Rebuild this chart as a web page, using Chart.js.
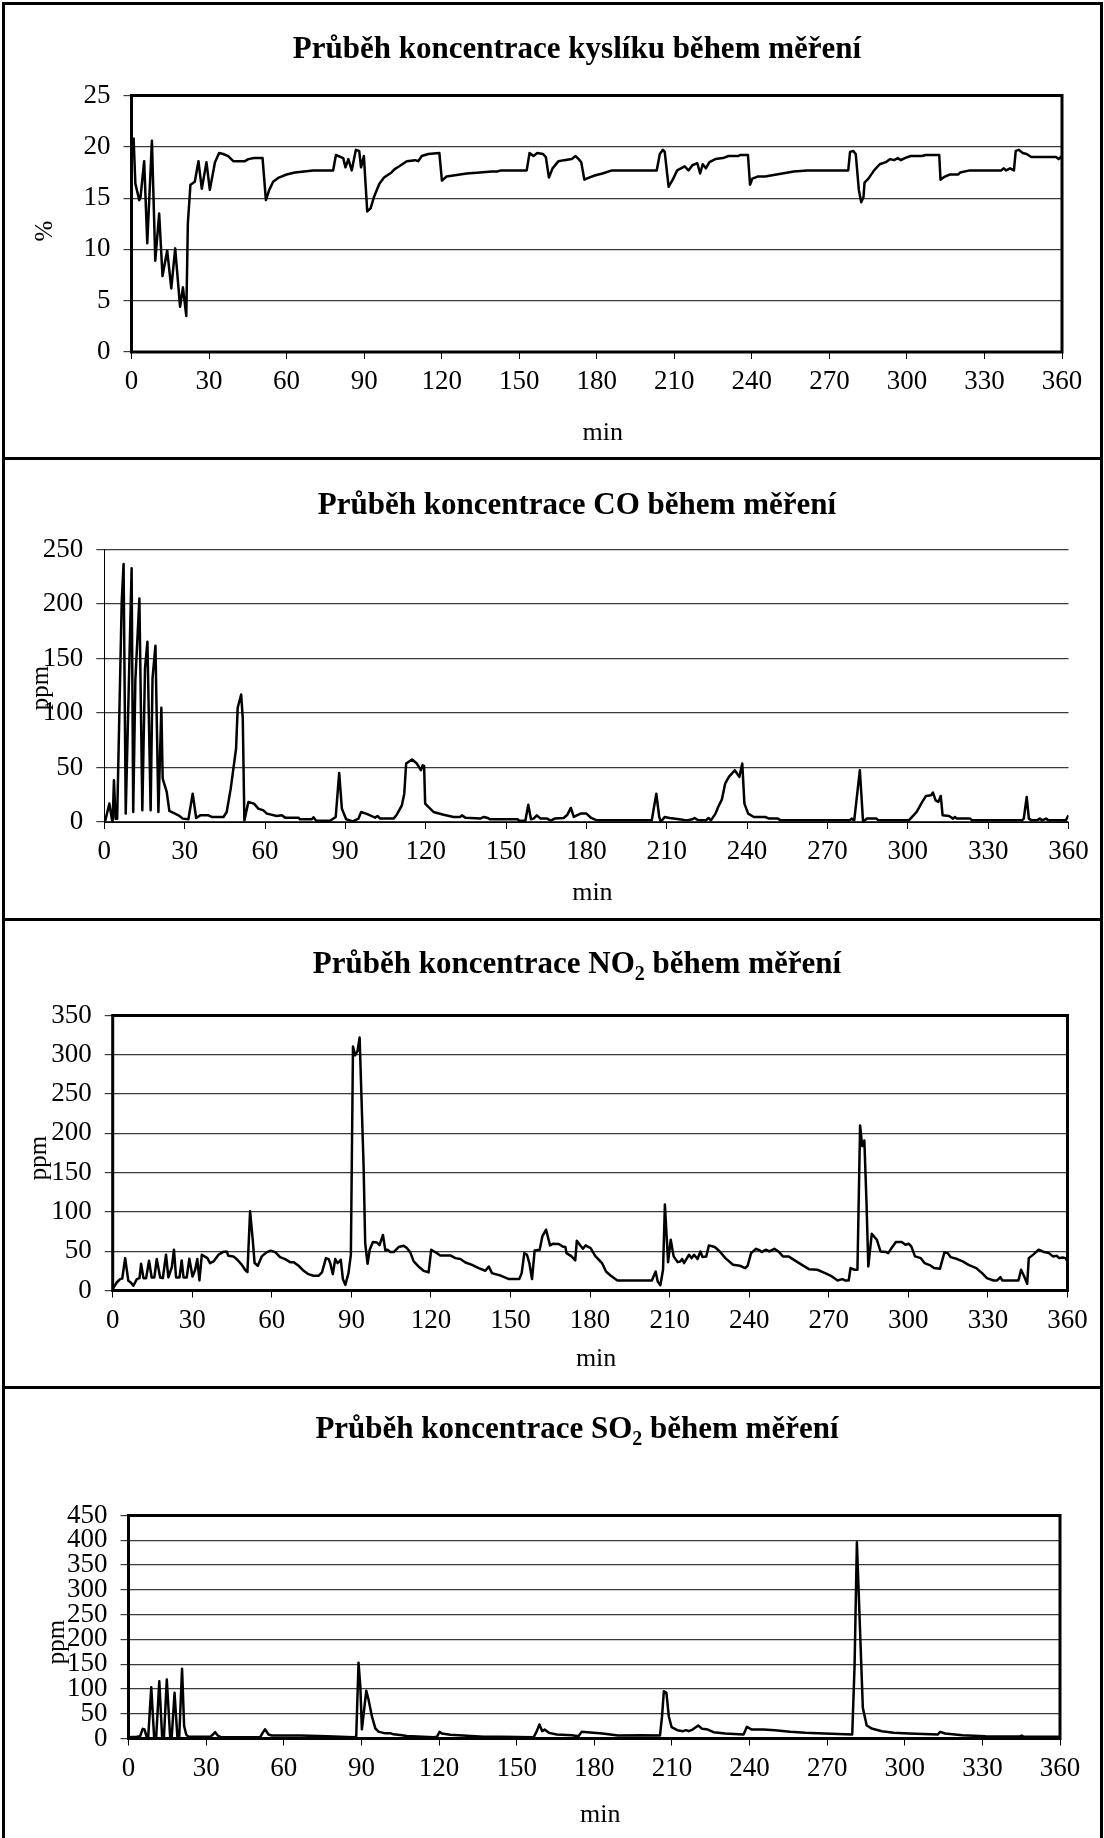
<!DOCTYPE html>
<html lang="cs">
<head>
<meta charset="utf-8">
<title>Průběh koncentrací během měření</title>
<script src="https://cdn.jsdelivr.net/npm/chart.js@4.4.0/dist/chart.umd.js"></script>
<style>
  html, body { margin: 0; padding: 0; background: #fff; }
  #sheet { position: relative; width: 1104px; height: 1838px; overflow: hidden; background: #fff; }
  #sheet canvas { position: absolute; left: 0; }
  .rule { position: absolute; background: #000; }
</style>
</head>
<body>
<div id="sheet">
  <canvas id="chart-o2" width="1104" height="458" style="top:0px"></canvas>
  <canvas id="chart-co" width="1104" height="462" style="top:458px"></canvas>
  <canvas id="chart-no2" width="1104" height="468" style="top:920px"></canvas>
  <canvas id="chart-so2" width="1104" height="450" style="top:1388px"></canvas>

  <!-- frame round the four panels -->
  <div class="rule" style="left:2px;top:2px;width:1101px;height:3px"></div>
  <div class="rule" style="left:2px;top:2px;width:3px;height:1836px"></div>
  <div class="rule" style="left:1100px;top:2px;width:3px;height:1836px"></div>
  <div class="rule" style="left:2px;top:457px;width:1101px;height:3px"></div>
  <div class="rule" style="left:2px;top:918px;width:1101px;height:3px"></div>
  <div class="rule" style="left:2px;top:1386px;width:1101px;height:3px"></div>
</div>

<script>
// ---- data (minute, value) ----
const minuteTicks = [0, 30, 60, 90, 120, 150, 180, 210, 240, 270, 300, 330, 360];

const o2Ticks = [0, 5, 10, 15, 20, 25];
const o2Minutes = [0.8, 1.5, 3, 3.5, 4.9, 6.1, 7.9, 9.2, 10.7, 12, 13.8, 15.4, 16.9, 18.8, 19.9, 21.2, 21.8, 22.8, 24.5, 25.9,
  27.2, 29, 30.3, 32.3, 33.2, 33.9, 35.5, 37.4, 39.4, 43.9, 45.2, 47.4, 50.7, 52, 53.3, 54.8, 57, 60, 63.2, 70.3,
  78, 79.1, 81.9, 82.8, 83.9, 85.2, 86.8, 88.1, 88.8, 89.9, 91.2, 92.5, 93.8, 95.9, 97.7, 100.6, 101.7, 103.6, 106.5, 109.7,
  110.9, 112.3, 114.8, 119.1, 120.1, 121.9, 124.5, 129.7, 134.8, 139.4, 141.5, 143, 152.9, 154, 155.5, 157, 159.2, 160.3, 161.5, 162.9,
  165.2, 167.4, 170.3, 171.8, 173, 174, 175.2, 177, 179.2, 182.2, 185.9, 203.2, 204.4, 205.6, 206.3, 207.8, 209.6, 211.1, 213.3, 214,
  215.5, 217, 218.9, 220, 221, 222.2, 223.6, 225.9, 228.8, 231, 234.8, 235.5, 238.5, 239.3, 240.2, 242.2, 245.1, 247.3, 251.8, 256.2,
  261.4, 277.3, 278, 279.2, 280.2, 281.4, 282.3, 283.2, 283.6, 285.1, 287.3, 289.5, 291.8, 293.5, 295, 296.5, 297.7, 299.2, 301.4, 305.8,
  307.3, 312.5, 313, 314.7, 316.6, 319.9, 320.6, 324.3, 336.5, 337.4, 338.4, 339.9, 341.4, 342.1, 343.3, 344.8, 346.3, 348.1, 357.7, 358.7,
  360];
const o2Values = [20.9, 16.4, 14.8, 15.1, 18.6, 10.6, 20.6, 8.9, 13.5, 7.4, 9.9, 6.2, 10.1, 4.4, 6.3, 3.5, 12.5, 16.3, 16.6, 18.6,
  15.9, 18.5, 15.8, 18.5, 19, 19.4, 19.3, 19.1, 18.6, 18.6, 18.8, 18.9, 18.9, 14.8, 15.8, 16.6, 17, 17.3, 17.5, 17.7,
  17.7, 19.2, 18.9, 18, 18.8, 17.7, 19.7, 19.6, 18, 19.1, 13.7, 14, 15.1, 16.4, 17, 17.5, 17.8, 18.1, 18.6, 18.7,
  18.6, 19.1, 19.3, 19.4, 16.7, 17.1, 17.2, 17.4, 17.5, 17.6, 17.6, 17.7, 17.7, 19.4, 19.1, 19.4, 19.3, 19, 17, 17.9,
  18.6, 18.7, 18.8, 19.1, 18.8, 18.5, 16.8, 17, 17.2, 17.4, 17.7, 17.7, 19.3, 19.7, 19.5, 16.1, 16.9, 17.7, 18, 18.1,
  17.7, 18.2, 18.4, 17.4, 18.3, 17.9, 18.5, 18.8, 18.9, 19.1, 19.1, 19.2, 19.2, 16.3, 16.9, 17.1, 17.1, 17.2, 17.4, 17.6,
  17.7, 17.7, 19.5, 19.6, 19.3, 15.8, 14.6, 15.1, 16.5, 16.9, 17.7, 18.3, 18.5, 18.8, 18.7, 18.9, 18.7, 18.9, 19.1, 19.1,
  19.2, 19.2, 16.8, 17.1, 17.3, 17.3, 17.5, 17.7, 17.7, 17.9, 17.7, 17.9, 17.7, 19.6, 19.7, 19.4, 19.3, 19, 19, 18.8,
  19.1];

const coTicks = [0, 50, 100, 150, 200, 250];
const coMinutes = [0.3, 1.9, 2.8, 3.1, 3.6, 4.2, 4.8, 6.5, 7.2, 8, 10.2, 10.8, 11.6, 13.1, 14.2, 15.2, 16.1, 17.3, 18, 19.1,
  20.2, 21.3, 21.8, 23.3, 24.3, 25.8, 27.7, 29.3, 31.4, 33, 34.3, 35.8, 38.9, 40.1, 44.5, 45.7, 47.2, 49.2, 49.8, 51.1,
  51.7, 52.3, 53.8, 55.9, 57.5, 59.4, 60.7, 64.4, 66.3, 67.5, 72.5, 73.1, 77.5, 78.1, 79.1, 84.3, 86.4, 87.7, 88.7, 90.3,
  92.8, 94.9, 95.9, 98, 101.1, 102, 103, 108, 109.2, 111.1, 112, 112.7, 114.9, 116.7, 118.2, 118.9, 119.4, 119.8, 121, 122.9,
  126.7, 130.4, 132.9, 133.5, 134.8, 140.4, 141.7, 143.2, 143.9, 154.3, 154.9, 157.2, 158.3, 159.3, 160.3, 161.5, 162.9, 165.3, 166.7, 168.2,
  171.5, 172.9, 174.2, 175.3, 177.8, 180, 181.8, 183.9, 204.4, 206.1, 207.2, 207.8, 209.2, 211.1, 214.6, 217.5, 219.6, 220.4, 221.8, 224.6,
  225.6, 226.5, 228.2, 229.2, 230.6, 231.8, 233.2, 235.4, 237.1, 238.2, 239, 240.4, 242.5, 246.8, 248.2, 251.5, 252.5, 278.3, 279, 280,
  282.1, 283.3, 284.7, 288.3, 289, 300.4, 303.3, 305.4, 306.8, 308.7, 309.4, 310.4, 311.4, 312.3, 313, 315.4, 316.9, 317.6, 318.3, 323.3,
  324, 342.6, 343.3, 344.4, 345.2, 346.2, 348.3, 349.3, 350.2, 351.6, 352.6, 359, 360];
const coValues = [0.6, 16.9, 3, 0, 38.3, 3, 3, 202, 236.8, 7.7, 232.8, 9.2, 130, 205, 10.7, 141, 165.4, 10.7, 131.7, 161.8,
  9.2, 104.8, 39.8, 27.6, 10.1, 8.3, 6.1, 3.1, 2.5, 26, 3.7, 6.1, 6.1, 4.6, 4.6, 9.2, 30.6, 67.4, 104.8, 117,
  95, 1.5, 18.4, 16.9, 12.3, 10.7, 7.7, 5.5, 6.1, 4, 4, 2.5, 2.5, 4.3, 1.2, 1.2, 4.6, 45, 12.3, 2.5,
  0.6, 3.1, 9.2, 7.4, 4, 5.5, 3.1, 3.1, 6.7, 15.3, 26, 53.6, 57.3, 53.6, 47.5, 52, 51.5, 16.9, 13.8, 9.2,
  6.7, 4.6, 4.6, 6.1, 4, 3.1, 4.6, 3.7, 2.5, 2.5, 1.2, 1.2, 15.9, 2.5, 3.1, 6.1, 3.1, 3.1, 1.2, 3.1,
  3.7, 6.7, 12.9, 4.6, 7.7, 7.7, 3.7, 1.5, 1.5, 26, 4.6, 0, 4.6, 3.7, 2.5, 1.5, 2.5, 3.7, 1.5, 1.5,
  3.7, 1.5, 7.7, 13.8, 20.8, 35.2, 41.4, 47.5, 41.4, 53.6, 16.9, 7.7, 4.6, 4.6, 3.1, 3.1, 1.5, 1.5, 3.1, 1.5,
  47.5, 0, 3.1, 3.1, 1.5, 1.5, 9.2, 18.4, 23.9, 24.5, 27, 19.9, 18.4, 23.9, 6.1, 5.5, 3.1, 4.6, 3.1, 3.1,
  1.5, 1.5, 3.1, 23, 3.1, 1.5, 1.5, 3.1, 1.5, 3.1, 1.5, 1.5, 6.1];

const no2Ticks = [0, 50, 100, 150, 200, 250, 300, 350];
const no2Minutes = [0, 1.5, 2.8, 3.6, 4.7, 5.9, 6.8, 7.8, 9.1, 10.1, 10.7, 11.6, 12.6, 13.7, 14.7, 15.7, 16.6, 17.9, 18.9, 20.1,
  21, 22.3, 23.1, 23.9, 25.2, 26, 26.7, 27.9, 28.9, 30.1, 31.1, 31.9, 32.7, 33.6, 35.7, 36.7, 38, 39.9, 41.5, 43,
  43.6, 45.5, 47, 48.7, 49.9, 50.8, 51.8, 52.8, 53.5, 54.7, 56.2, 58.1, 59.6, 61.3, 63.1, 65, 66.9, 68.2, 70.1, 72,
  73.8, 75.7, 77.6, 78.9, 80.4, 81.4, 82, 83, 83.9, 84.8, 85.5, 86, 86.8, 87.7, 88.9, 89.8, 90.6, 91.4, 92.3, 93.1,
  94.6, 95.2, 96.1, 96.9, 98.1, 99.6, 100.6, 101.9, 102.8, 103.6, 104.7, 105.9, 107.8, 109.7, 110.9, 112.2, 113.5, 115.3, 117.2, 119.1,
  120.1, 121.6, 123.5, 127.3, 129.2, 131.1, 133, 135.5, 138, 140.5, 141.8, 143, 144.3, 146.5, 149.4, 153.3, 154.2, 155.2, 156.2, 157.1,
  158.1, 159.1, 161, 162, 163.4, 164.9, 166, 168.2, 169.6, 170.7, 171.1, 173, 174.4, 175, 176.1, 177.3, 178.3, 180.2, 181.9, 184.5,
  186, 187.7, 190.3, 203.3, 204.7, 205.5, 206.5, 207.5, 208.2, 209.4, 210.4, 211.5, 213, 214, 214.7, 215.4, 217.3, 218.3, 219.2, 220.5,
  221.6, 222.4, 223.8, 224.8, 227, 228.9, 231, 233.9, 236.5, 238.5, 239.4, 240.7, 242.6, 244, 244.7, 246.2, 247.6, 249.5, 251, 252.7,
  254.8, 258.2, 262.5, 265.7, 268.6, 271.2, 273.3, 275.1, 276.1, 277.5, 278.2, 279.7, 280.8, 281.8, 282.6, 283.4, 284.2, 284.9, 286.2, 288.1,
  289.5, 291.7, 292.4, 293.4, 295.3, 297.5, 298.9, 300.1, 301.1, 302.5, 304.7, 306.1, 308.3, 309.7, 311.9, 313.6, 314.8, 315.9, 318.4, 320.5,
  322.7, 325.6, 327.8, 329.6, 332.1, 333.5, 334.7, 335.4, 341.5, 342.5, 343.7, 344.8, 345.4, 347.3, 349.1, 351.2, 353, 354.5, 355.9, 356.9,
  358.1, 359.3, 360];
const no2Values = [1.7, 10.2, 14.5, 15.3, 41.2, 12.3, 10.2, 6, 14.5, 15.7, 34, 15.7, 15.7, 37.8, 16.6, 16.6, 40, 16.6, 15.7, 45.5,
  16.6, 29.8, 51.9, 16.6, 16.6, 38.3, 16.6, 16.6, 40.4, 17.9, 26.4, 40, 12.8, 45.5, 41.2, 34.9, 37, 45.5, 48.9, 49.7,
  44.2, 43.4, 39.1, 32.7, 26.4, 23.4, 100.8, 64.6, 34.9, 31.5, 43.4, 48.9, 50.6, 48.9, 42.5, 40, 36.1, 36.1, 31.5, 25.1,
  20.8, 18.7, 18.7, 23, 41.2, 40, 34.9, 20.8, 40, 34.9, 37, 39.1, 14.5, 7.2, 22.1, 45.5, 310.4, 299.3, 304.8, 321.9,
  158.2, 60.4, 34, 51.9, 61.6, 61.2, 57.8, 70.6, 51, 51.9, 48.9, 48.9, 55.3, 57, 54, 48.5, 37, 30.6, 25.1, 23,
  51.9, 48.9, 44.6, 44.6, 41.2, 40, 35.7, 32.7, 28.5, 25.1, 30.6, 22.1, 20.8, 18.7, 14.5, 14.5, 22.1, 47.6, 45.5, 34.9,
  14.5, 51, 51.9, 68.9, 77.4, 57.4, 59.5, 59.1, 56.1, 55.3, 47.6, 43.4, 38.3, 63.4, 58.2, 53.1, 57.4, 54, 44.2, 34.9,
  24.2, 19.1, 12.8, 12.8, 24.2, 11.5, 6.8, 26.4, 109.3, 36.1, 64.6, 43.4, 36.1, 37, 40, 34.9, 45.5, 41.2, 45.5, 40,
  49.7, 42.5, 43.4, 57.4, 55.3, 49.7, 41.2, 32.7, 31.5, 28.5, 31.5, 47.6, 53.1, 51, 48.9, 51.9, 49.7, 53.1, 49.7, 43.4,
  43.4, 36.1, 27.2, 26.4, 22.1, 17.9, 12.8, 14.5, 12.8, 12.8, 28.5, 26.4, 26.4, 210, 183.7, 190.9, 113.5, 30.6, 72.3, 64.6,
  49.7, 48.9, 47.6, 52.7, 61.6, 61.6, 58.2, 59.5, 56.1, 43.4, 41.2, 34.9, 31.9, 28.5, 27.6, 48.5, 47.6, 42.5, 40, 37,
  32.7, 28.5, 22.1, 15.7, 12.8, 12.8, 17, 12.8, 12.8, 26.4, 17.9, 8.5, 41.2, 46.3, 51.9, 48.9, 47.6, 43.4, 44.2, 41.2,
  42.1, 41.2, 37];

const so2Ticks = [0, 50, 100, 150, 200, 250, 300, 350, 400, 450];
const so2Minutes = [0, 3.2, 4.5, 5.5, 6.2, 7.1, 7.6, 8.8, 9.9, 10.7, 11.9, 13, 13.7, 14.8, 16.1, 16.7, 17.8, 18.9, 19.6, 20.7,
  21.5, 22.3, 23.2, 31.6, 32.6, 33.5, 34.5, 35.7, 50.9, 51.9, 52.8, 54.1, 55.4, 66.4, 76.7, 87, 88, 88.9, 89.6, 90.2,
  90.9, 91.9, 92.8, 94.1, 95.4, 96.6, 99.2, 101.4, 102.4, 105, 107.6, 117.9, 119.2, 120.2, 121.1, 124.4, 130.8, 137.2, 143.7, 156.6,
  157.8, 158.8, 159.9, 160.8, 162.5, 165.5, 171.4, 173.9, 175.1, 177.3, 183.2, 189.2, 198, 205.4, 206.2, 206.9, 207.9, 208.8, 209.9, 212.1,
  214.3, 215.5, 216.5, 218, 220.2, 221.7, 223.9, 226.1, 230.6, 237.7, 239, 240.9, 245.4, 249.8, 255.7, 261.6, 269, 279.7, 280.6, 281.5,
  282.3, 283.8, 285.3, 287.5, 291.2, 295.7, 301.6, 312.7, 313.7, 315.6, 322.3, 331.2, 344.5, 345.2, 346, 360];
const so2Values = [2.7, 3.4, 4.7, 19.5, 18.1, 1.3, 1.3, 103.5, 2.7, 2.7, 115.6, 2.7, 2.7, 119, 2.7, 2.7, 92.1, 2.7, 2.7, 140.8,
  25.2, 8, 3.4, 3.4, 8, 12.8, 6, 2.7, 2.7, 11.8, 18.5, 8, 6, 6, 4.7, 2.7, 3.4, 152.9, 104.5, 18.5,
  50.7, 96.4, 77.6, 44, 20.5, 13.8, 10.4, 10.4, 8.4, 7, 5, 2.7, 3.4, 13.4, 10, 7.7, 5.7, 3.7, 3.4, 2.7,
  14.8, 28.2, 14.8, 18.1, 11.4, 8, 6.7, 4.7, 13.4, 12.8, 10, 6, 6.7, 6, 45, 95.4, 92, 45, 22.8, 16.8,
  14.8, 16.8, 14.8, 18.1, 26.2, 19.5, 18.1, 12.8, 10, 8, 23.5, 18.1, 18.1, 16.8, 13.4, 11.4, 10, 8, 145.8, 395.8,
  280, 61.8, 26.2, 19.5, 14.8, 11.4, 10, 8, 13.4, 10, 6.7, 4.7, 4, 6, 3.4, 3.4];

// ---- drawing ----
const SERIF = "'Liberation Serif', 'Times New Roman', Times, serif";

// titles, axis labels and the plot frame, drawn over each chart
function makeDecor(panel) {
    return {
        id: 'panelDecor',
        afterDraw(chart) {
            const ctx = chart.ctx;
            const a = chart.chartArea;
            ctx.save();
            ctx.fillStyle = '#000';
            ctx.strokeStyle = '#000';

            if (panel.frame) {
                ctx.lineWidth = panel.frame;
                ctx.strokeRect(a.left, a.top, a.right - a.left, a.bottom - a.top);
            }

            // title, pieces marked true are subscripts
            ctx.textBaseline = 'alphabetic';
            ctx.textAlign = 'left';
            const mainFont = 'bold 31px ' + SERIF;
            const subFont = 'bold 20px ' + SERIF;
            let total = 0;
            panel.title.forEach(([text, isSub]) => {
                ctx.font = isSub ? subFont : mainFont;
                total += ctx.measureText(text).width;
            });
            let x = 577 - total / 2;
            panel.title.forEach(([text, isSub]) => {
                ctx.font = isSub ? subFont : mainFont;
                ctx.fillText(text, x, panel.titleBase + (isSub ? 7 : 0));
                x += ctx.measureText(text).width;
            });

            ctx.textAlign = 'center';
            ctx.font = '26px ' + SERIF;
            ctx.fillText('min', (a.left + a.right) / 2 + 6, panel.minBase);

            ctx.translate(panel.yTitleX, panel.yTitleY);
            ctx.rotate(-Math.PI / 2);
            ctx.font = '25px ' + SERIF;
            ctx.fillText(panel.yTitle, 0, 0);
            ctx.restore();
        }
    };
}

function createPanelChart(panel) {
    const canvas = document.getElementById(panel.canvasId);
    const points = panel.minutes.map((m, i) => ({ x: m, y: panel.values[i] }));
    const tickFont = { family: SERIF, size: 27 };
    const padding = { left: 0, top: panel.area.top, right: canvas.width - panel.area.right, bottom: 0 };

    const chart = new Chart(canvas.getContext('2d'), {
        type: 'line',
        data: {
            datasets: [{
                data: points,
                borderColor: '#000',
                borderWidth: 2.5,
                borderJoinStyle: 'round',
                pointRadius: 0,
                tension: 0,
                fill: false
            }]
        },
        options: {
            responsive: false,
            animation: false,
            events: [],
            layout: { padding: padding },
            plugins: {
                legend: { display: false },
                tooltip: { enabled: false },
                title: { display: false }
            },
            scales: {
                x: {
                    type: 'linear',
                    min: minuteTicks[0],
                    max: minuteTicks[minuteTicks.length - 1],
                    afterBuildTicks: scale => { scale.ticks = minuteTicks.map(v => ({ value: v })); },
                    grid: { drawOnChartArea: false, drawTicks: true, tickLength: 7, color: '#000', lineWidth: 1 },
                    border: { display: true, color: '#000', width: 1 },
                    ticks: { font: tickFont, color: '#000', padding: 7, maxRotation: 0, autoSkip: false }
                },
                y: {
                    type: 'linear',
                    min: panel.yTicks[0],
                    max: panel.yTicks[panel.yTicks.length - 1],
                    afterBuildTicks: scale => { scale.ticks = panel.yTicks.map(v => ({ value: v })); },
                    grid: { color: '#3a3a3a', lineWidth: 1.2, drawTicks: true, tickLength: 8, tickColor: '#3a3a3a' },
                    border: { display: true, color: '#000', width: 1 },
                    ticks: { font: tickFont, color: '#000', padding: 13, autoSkip: false }
                }
            }
        },
        plugins: [makeDecor(panel)]
    });

    // nudge the layout padding until the plot area sits where it does in the original
    for (let i = 0; i < 3; i++) {
        const a = chart.chartArea;
        padding.left += panel.area.left - a.left;
        padding.top += panel.area.top - a.top;
        padding.right += a.right - panel.area.right;
        padding.bottom += a.bottom - panel.area.bottom;
        chart.update('none');
    }
    return chart;
}

const panels = [
    {
        canvasId: 'chart-o2', minutes: o2Minutes, values: o2Values, yTicks: o2Ticks,
        area: { left: 131.5, top: 95.5, right: 1062, bottom: 352 },
        title: [['Průběh koncentrace kyslíku během měření', false]],
        titleBase: 58, minBase: 440, yTitle: '%', yTitleX: 52, yTitleY: 231, frame: 3
    },
    {
        canvasId: 'chart-co', minutes: coMinutes, values: coValues, yTicks: coTicks,
        area: { left: 104.3, top: 91.5, right: 1068.5, bottom: 364 },
        title: [['Průběh koncentrace CO během měření', false]],
        titleBase: 56, minBase: 442, yTitle: 'ppm', yTitleX: 48, yTitleY: 230, frame: 0
    },
    {
        canvasId: 'chart-no2', minutes: no2Minutes, values: no2Values, yTicks: no2Ticks,
        area: { left: 112.7, top: 95.5, right: 1067.5, bottom: 370.5 },
        title: [['Průběh koncentrace NO', false], ['2', true], [' během měření', false]],
        titleBase: 53, minBase: 446, yTitle: 'ppm', yTitleX: 46, yTitleY: 238, frame: 3
    },
    {
        canvasId: 'chart-so2', minutes: so2Minutes, values: so2Values, yTicks: so2Ticks,
        area: { left: 128.5, top: 127.5, right: 1060, bottom: 350.5 },
        title: [['Průběh koncentrace SO', false], ['2', true], [' během měření', false]],
        titleBase: 50, minBase: 434, yTitle: 'ppm', yTitleX: 64, yTitleY: 254, frame: 3
    }
];

const charts = panels.map(createPanelChart);
</script>
</body>
</html>
